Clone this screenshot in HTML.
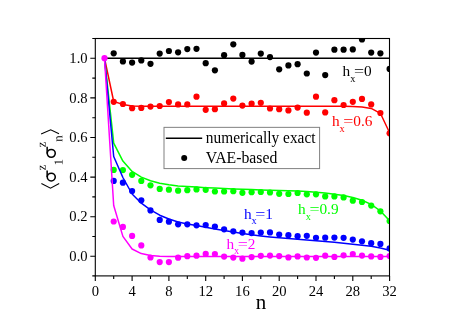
<!DOCTYPE html>
<html><head><meta charset="utf-8"><title>chart</title>
<style>
html,body{margin:0;padding:0;background:#fff;}
body{width:468px;height:331px;overflow:hidden;font-family:"Liberation Serif",serif;}
svg{display:block;will-change:transform;}
text{font-family:"Liberation Serif",serif;}
.sg{font-family:"Liberation Sans",sans-serif;}
</style></head><body>
<svg width="468" height="331" viewBox="0 0 468 331">
<rect x="0" y="0" width="468" height="331" fill="#fff"/>
<defs><clipPath id="cp"><rect x="95.3" y="38.5" width="294.2" height="237.4"/></clipPath></defs>
<g clip-path="url(#cp)">
<polyline points="104.5,58.3 113.7,58.3 122.9,58.3 132.1,58.3 141.3,58.3 150.5,58.3 159.7,58.3 168.9,58.3 178.1,58.3 187.3,58.3 196.5,58.3 205.7,58.3 214.9,58.3 224.1,58.3 233.3,58.3 242.4,58.3 251.6,58.3 260.8,58.3 270.0,58.3 279.2,58.3 288.4,58.3 297.6,58.3 306.8,58.3 316.0,58.3 325.2,58.3 334.4,58.3 343.6,58.3 352.8,58.3 362.0,58.3 371.2,58.3 380.4,58.3 389.6,58.3" fill="none" stroke="#000" stroke-width="1.5" stroke-linejoin="round"/>
<g fill="#000"><circle cx="113.7" cy="53.3" r="3.1"/><circle cx="122.9" cy="61.4" r="3.1"/><circle cx="132.1" cy="62.6" r="3.1"/><circle cx="141.3" cy="60.4" r="3.1"/><circle cx="150.5" cy="63.8" r="3.1"/><circle cx="159.7" cy="53.6" r="3.1"/><circle cx="168.9" cy="51.0" r="3.1"/><circle cx="178.1" cy="52.3" r="3.1"/><circle cx="187.3" cy="49.1" r="3.1"/><circle cx="196.5" cy="48.8" r="3.1"/><circle cx="205.7" cy="63.2" r="3.1"/><circle cx="214.9" cy="70.3" r="3.1"/><circle cx="224.1" cy="55.2" r="3.1"/><circle cx="233.3" cy="44.3" r="3.1"/><circle cx="242.4" cy="54.9" r="3.1"/><circle cx="251.6" cy="61.6" r="3.1"/><circle cx="260.8" cy="53.6" r="3.1"/><circle cx="270.0" cy="57.1" r="3.1"/><circle cx="279.2" cy="69.3" r="3.1"/><circle cx="288.4" cy="65.4" r="3.1"/><circle cx="297.6" cy="64.2" r="3.1"/><circle cx="306.8" cy="73.5" r="3.1"/><circle cx="316.0" cy="52.6" r="3.1"/><circle cx="325.2" cy="75.1" r="3.1"/><circle cx="334.4" cy="49.7" r="3.1"/><circle cx="343.6" cy="49.7" r="3.1"/><circle cx="352.8" cy="49.4" r="3.1"/><circle cx="362.0" cy="39.5" r="3.1"/><circle cx="371.2" cy="52.6" r="3.1"/><circle cx="380.4" cy="53.3" r="3.1"/><circle cx="389.6" cy="68.9" r="3.1"/></g>
<polyline points="104.5,58.2 113.7,101.5 122.9,104.4 132.1,105.9 141.3,106.3 150.5,106.3 159.7,106.3 168.9,106.3 178.1,106.3 187.3,106.3 196.5,106.3 205.7,106.3 214.9,106.3 224.1,106.3 233.3,106.3 242.4,106.3 251.6,106.3 260.8,106.3 270.0,106.3 279.2,106.3 288.4,106.3 297.6,106.3 306.8,106.3 316.0,106.3 325.2,106.3 334.4,106.3 343.6,106.3 352.8,106.6 362.0,107.1 371.2,108.4 380.4,113.3 389.6,132.8" fill="none" stroke="#f00" stroke-width="1.5" stroke-linejoin="round"/>
<g fill="#f00"><circle cx="113.7" cy="101.8" r="3.1"/><circle cx="122.9" cy="104.0" r="3.1"/><circle cx="132.1" cy="108.2" r="3.1"/><circle cx="141.3" cy="107.9" r="3.1"/><circle cx="150.5" cy="106.6" r="3.1"/><circle cx="159.7" cy="106.0" r="3.1"/><circle cx="168.9" cy="102.1" r="3.1"/><circle cx="178.1" cy="104.4" r="3.1"/><circle cx="187.3" cy="104.4" r="3.1"/><circle cx="196.5" cy="96.7" r="3.1"/><circle cx="205.7" cy="109.8" r="3.1"/><circle cx="214.9" cy="109.2" r="3.1"/><circle cx="224.1" cy="103.4" r="3.1"/><circle cx="233.3" cy="98.6" r="3.1"/><circle cx="242.4" cy="105.6" r="3.1"/><circle cx="251.6" cy="103.7" r="3.1"/><circle cx="260.8" cy="102.8" r="3.1"/><circle cx="270.0" cy="108.5" r="3.1"/><circle cx="279.2" cy="109.2" r="3.1"/><circle cx="288.4" cy="110.4" r="3.1"/><circle cx="297.6" cy="107.6" r="3.1"/><circle cx="306.8" cy="112.7" r="3.1"/><circle cx="316.0" cy="96.7" r="3.1"/><circle cx="325.2" cy="112.4" r="3.1"/><circle cx="334.4" cy="100.2" r="3.1"/><circle cx="343.6" cy="105.0" r="3.1"/><circle cx="352.8" cy="101.8" r="3.1"/><circle cx="362.0" cy="98.9" r="3.1"/><circle cx="371.2" cy="104.4" r="3.1"/><circle cx="380.4" cy="113.0" r="3.1"/><circle cx="389.6" cy="133.3" r="3.1"/></g>
<polyline points="104.5,58.2 113.7,143.1 122.9,161.1 132.1,171.4 141.3,177.1 150.5,180.8 159.7,183.2 168.9,184.8 178.1,185.9 187.3,186.6 196.5,187.1 205.7,187.7 214.9,188.1 224.1,188.5 233.3,188.9 242.4,189.3 251.6,189.6 260.8,189.9 270.0,190.2 279.2,190.5 288.4,190.8 297.6,191.1 306.8,191.6 316.0,192.2 325.2,193.0 334.4,194.2 343.6,195.6 352.8,197.5 362.0,200.2 371.2,204.4 380.4,211.0 389.6,220.7" fill="none" stroke="#0f0" stroke-width="1.5" stroke-linejoin="round"/>
<g fill="#0f0"><circle cx="113.7" cy="169.9" r="3.1"/><circle cx="122.9" cy="170.1" r="3.1"/><circle cx="132.1" cy="174.8" r="3.1"/><circle cx="141.3" cy="180.9" r="3.1"/><circle cx="150.5" cy="185.3" r="3.1"/><circle cx="159.7" cy="188.9" r="3.1"/><circle cx="168.9" cy="189.7" r="3.1"/><circle cx="178.1" cy="190.7" r="3.1"/><circle cx="187.3" cy="190.2" r="3.1"/><circle cx="196.5" cy="189.4" r="3.1"/><circle cx="205.7" cy="189.8" r="3.1"/><circle cx="214.9" cy="191.5" r="3.1"/><circle cx="224.1" cy="191.5" r="3.1"/><circle cx="233.3" cy="191.2" r="3.1"/><circle cx="242.4" cy="192.8" r="3.1"/><circle cx="251.6" cy="192.2" r="3.1"/><circle cx="260.8" cy="192.0" r="3.1"/><circle cx="270.0" cy="192.5" r="3.1"/><circle cx="279.2" cy="193.8" r="3.1"/><circle cx="288.4" cy="194.0" r="3.1"/><circle cx="297.6" cy="193.0" r="3.1"/><circle cx="306.8" cy="194.3" r="3.1"/><circle cx="316.0" cy="194.3" r="3.1"/><circle cx="325.2" cy="196.4" r="3.1"/><circle cx="334.4" cy="196.4" r="3.1"/><circle cx="343.6" cy="197.4" r="3.1"/><circle cx="352.8" cy="200.7" r="3.1"/><circle cx="362.0" cy="202.0" r="3.1"/><circle cx="371.2" cy="205.6" r="3.1"/><circle cx="380.4" cy="211.3" r="3.1"/><circle cx="389.6" cy="221.0" r="3.1"/></g>
<polyline points="104.5,58.2 113.7,156.5 122.9,177.5 132.1,194.0 141.3,203.2 150.5,209.8 159.7,215.2 168.9,219.0 178.1,222.0 187.3,224.0 196.5,225.6 205.7,227.2 214.9,228.9 224.1,230.5 233.3,232.1 242.4,233.6 251.6,234.8 260.8,235.9 270.0,236.9 279.2,237.8 288.4,238.5 297.6,239.3 306.8,240.0 316.0,240.7 325.2,241.5 334.4,242.3 343.6,243.2 352.8,244.2 362.0,245.2 371.2,246.3 380.4,247.9 389.6,250.3" fill="none" stroke="#00f" stroke-width="1.5" stroke-linejoin="round"/>
<g fill="#00f"><circle cx="113.7" cy="180.9" r="3.1"/><circle cx="122.9" cy="182.7" r="3.1"/><circle cx="132.1" cy="191.0" r="3.1"/><circle cx="141.3" cy="200.3" r="3.1"/><circle cx="150.5" cy="210.4" r="3.1"/><circle cx="159.7" cy="219.9" r="3.1"/><circle cx="168.9" cy="221.7" r="3.1"/><circle cx="178.1" cy="224.3" r="3.1"/><circle cx="187.3" cy="224.3" r="3.1"/><circle cx="196.5" cy="225.3" r="3.1"/><circle cx="205.7" cy="225.1" r="3.1"/><circle cx="214.9" cy="226.5" r="3.1"/><circle cx="224.1" cy="229.3" r="3.1"/><circle cx="233.3" cy="231.3" r="3.1"/><circle cx="242.4" cy="232.6" r="3.1"/><circle cx="251.6" cy="233.1" r="3.1"/><circle cx="260.8" cy="232.6" r="3.1"/><circle cx="270.0" cy="232.4" r="3.1"/><circle cx="279.2" cy="234.5" r="3.1"/><circle cx="288.4" cy="235.2" r="3.1"/><circle cx="297.6" cy="236.2" r="3.1"/><circle cx="306.8" cy="235.8" r="3.1"/><circle cx="316.0" cy="237.8" r="3.1"/><circle cx="325.2" cy="237.7" r="3.1"/><circle cx="334.4" cy="237.6" r="3.1"/><circle cx="343.6" cy="237.8" r="3.1"/><circle cx="352.8" cy="239.6" r="3.1"/><circle cx="362.0" cy="241.3" r="3.1"/><circle cx="371.2" cy="243.2" r="3.1"/><circle cx="380.4" cy="243.9" r="3.1"/><circle cx="389.6" cy="248.4" r="3.1"/></g>
<polyline points="104.5,58.2 113.7,205.5 122.9,236.4 132.1,249.0 141.3,253.6 150.5,255.4 159.7,256.2 168.9,256.5 178.1,256.4 187.3,256.4 196.5,256.4 205.7,256.4 214.9,256.4 224.1,256.4 233.3,256.4 242.4,256.4 251.6,256.4 260.8,256.4 270.0,256.4 279.2,256.4 288.4,256.4 297.6,256.4 306.8,256.4 316.0,256.4 325.2,256.4 334.4,256.4 343.6,256.4 352.8,256.4 362.0,256.4 371.2,256.4 380.4,256.4 389.6,256.4" fill="none" stroke="#f0f" stroke-width="1.5" stroke-linejoin="round"/>
<g fill="#f0f"><circle cx="104.5" cy="58.2" r="3.1"/><circle cx="113.7" cy="221.5" r="3.1"/><circle cx="122.9" cy="226.9" r="3.1"/><circle cx="132.1" cy="235.9" r="3.1"/><circle cx="141.3" cy="245.4" r="3.1"/><circle cx="150.5" cy="257.5" r="3.1"/><circle cx="159.7" cy="262.1" r="3.1"/><circle cx="168.9" cy="262.1" r="3.1"/><circle cx="178.1" cy="257.7" r="3.1"/><circle cx="187.3" cy="256.2" r="3.1"/><circle cx="196.5" cy="255.7" r="3.1"/><circle cx="205.7" cy="253.9" r="3.1"/><circle cx="214.9" cy="254.0" r="3.1"/><circle cx="224.1" cy="256.6" r="3.1"/><circle cx="233.3" cy="257.6" r="3.1"/><circle cx="242.4" cy="258.7" r="3.1"/><circle cx="251.6" cy="257.1" r="3.1"/><circle cx="260.8" cy="255.8" r="3.1"/><circle cx="270.0" cy="255.6" r="3.1"/><circle cx="279.2" cy="256.1" r="3.1"/><circle cx="288.4" cy="257.4" r="3.1"/><circle cx="297.6" cy="256.4" r="3.1"/><circle cx="306.8" cy="257.5" r="3.1"/><circle cx="316.0" cy="257.8" r="3.1"/><circle cx="325.2" cy="255.7" r="3.1"/><circle cx="334.4" cy="256.9" r="3.1"/><circle cx="343.6" cy="255.3" r="3.1"/><circle cx="352.8" cy="254.0" r="3.1"/><circle cx="362.0" cy="255.6" r="3.1"/><circle cx="371.2" cy="256.4" r="3.1"/><circle cx="380.4" cy="256.9" r="3.1"/><circle cx="389.6" cy="256.1" r="3.1"/></g>
</g>
<rect x="95.3" y="38.5" width="294.2" height="237.4" fill="none" stroke="#000" stroke-width="1.1"/>
<path d="M95.3,275.9v5M113.7,275.9v3M132.1,275.9v5M150.5,275.9v3M168.9,275.9v5M187.3,275.9v3M205.7,275.9v5M224.1,275.9v3M242.4,275.9v5M260.8,275.9v3M279.2,275.9v5M297.6,275.9v3M316.0,275.9v5M334.4,275.9v3M352.8,275.9v5M371.2,275.9v3M389.6,275.9v5M95.3,275.9h-3M95.3,256.3h-5M95.3,236.5h-3M95.3,216.7h-5M95.3,196.9h-3M95.3,177.1h-5M95.3,157.3h-3M95.3,137.5h-5M95.3,117.7h-3M95.3,97.9h-5M95.3,78.1h-3M95.3,58.3h-5M95.3,38.5h-3" stroke="#000" stroke-width="1.1" fill="none"/>
<g font-size="14.6px" fill="#000">
<text x="95.3" y="295.6" text-anchor="middle">0</text><text x="132.1" y="295.6" text-anchor="middle">4</text><text x="168.9" y="295.6" text-anchor="middle">8</text><text x="205.7" y="295.6" text-anchor="middle">12</text><text x="242.4" y="295.6" text-anchor="middle">16</text><text x="279.2" y="295.6" text-anchor="middle">20</text><text x="316.0" y="295.6" text-anchor="middle">24</text><text x="352.8" y="295.6" text-anchor="middle">28</text><text x="389.6" y="295.6" text-anchor="middle">32</text>
<text x="87.6" y="260.9" text-anchor="end">0.0</text><text x="87.6" y="221.3" text-anchor="end">0.2</text><text x="87.6" y="181.7" text-anchor="end">0.4</text><text x="87.6" y="142.1" text-anchor="end">0.6</text><text x="87.6" y="102.5" text-anchor="end">0.8</text><text x="87.6" y="62.9" text-anchor="end">1.0</text></g>
<text x="261.1" y="308.5" font-size="21px" text-anchor="middle">n</text>
<rect x="164.0" y="127.35" width="155.6" height="41.25" fill="#fff" stroke="#808080" stroke-width="1"/>
<line x1="165.8" y1="138.2" x2="202.2" y2="138.2" stroke="#000" stroke-width="1.5"/>
<circle cx="184.2" cy="157.9" r="3.0" fill="#000"/>
<text x="205.8" y="143.0" font-size="16.2px" textLength="109.7" lengthAdjust="spacingAndGlyphs">numerically exact</text>
<text x="205.8" y="162.9" font-size="16.2px" textLength="71.5" lengthAdjust="spacingAndGlyphs">VAE-based</text>
<g font-size="15.3px" fill="#000"><text x="342.60" y="76.2">h<tspan font-size="10.3px" dy="5.8">x</tspan></text><text x="354.06" y="76.2" textLength="10.1" lengthAdjust="spacingAndGlyphs">=</text><text x="364.03" y="76.2">0</text></g>
<g font-size="15.3px" fill="#f00"><text x="331.90" y="126.2">h<tspan font-size="10.3px" dy="5.8">x</tspan></text><text x="343.36" y="126.2" textLength="10.1" lengthAdjust="spacingAndGlyphs">=</text><text x="353.33" y="126.2">0.6</text></g>
<g font-size="15.3px" fill="#0f0"><text x="298.00" y="213.8">h<tspan font-size="10.3px" dy="5.8">x</tspan></text><text x="309.46" y="213.8" textLength="10.1" lengthAdjust="spacingAndGlyphs">=</text><text x="319.43" y="213.8">0.9</text></g>
<g font-size="15.3px" fill="#00f"><text x="243.90" y="218.5">h<tspan font-size="10.3px" dy="5.8">x</tspan></text><text x="255.36" y="218.5" textLength="10.1" lengthAdjust="spacingAndGlyphs">=</text><text x="265.33" y="218.5">1</text></g>
<g font-size="15.3px" fill="#f0f"><text x="226.40" y="248.5">h<tspan font-size="10.3px" dy="5.8">x</tspan></text><text x="237.86" y="248.5" textLength="10.1" lengthAdjust="spacingAndGlyphs">=</text><text x="247.83" y="248.5">2</text></g>
<g fill="#000">
<path transform="matrix(0,-0.006152,-0.006152,0,45.60,147.30)" d="M55 0V45L571 860H350Q294 860 242.0 850.5Q190 841 170 825L139 690H92V940H786V891L270 80H545Q602 80 665.0 93.5Q728 107 754 127L805 324H852L827 0Z"/>
<path transform="matrix(0,-0.006152,-0.006152,0,45.60,170.30)" d="M55 0V45L571 860H350Q294 860 242.0 850.5Q190 841 170 825L139 690H92V940H786V891L270 80H545Q602 80 665.0 93.5Q728 107 754 127L805 324H852L827 0Z"/>
<path transform="matrix(0,-0.006152,-0.006152,0,62.30,141.70)" d="M324 864Q401 908 488.0 936.5Q575 965 633 965Q755 965 817.0 894.0Q879 823 879 688V70L993 45V0H588V45L713 70V670Q713 753 672.5 800.5Q632 848 547 848Q457 848 326 819V70L453 45V0H47V45L160 70V870L47 895V940H315Z"/>
<path transform="matrix(0,-0.006006,-0.006006,0,62.60,165.25)" d="M627 80 901 53V0H180V53L455 80V1174L184 1077V1130L575 1352H627Z"/>
</g>
<g fill="none" stroke="#000">
<ellipse cx="51.25" cy="153.35" rx="4.0" ry="3.9" stroke-width="1.55"/>
<path d="M47.15,153.4V146.8" stroke-width="1.5"/>
<ellipse cx="51.25" cy="177.05" rx="4.0" ry="3.9" stroke-width="1.55"/>
<path d="M47.15,177.1V170.5" stroke-width="1.5"/>
<path d="M41.4,183.6L50.5,188.2L59.2,183.6M41.1,134.1L50.7,129.8L59,133.7" stroke-width="1.1"/>
</g>
</svg>
</body></html>
